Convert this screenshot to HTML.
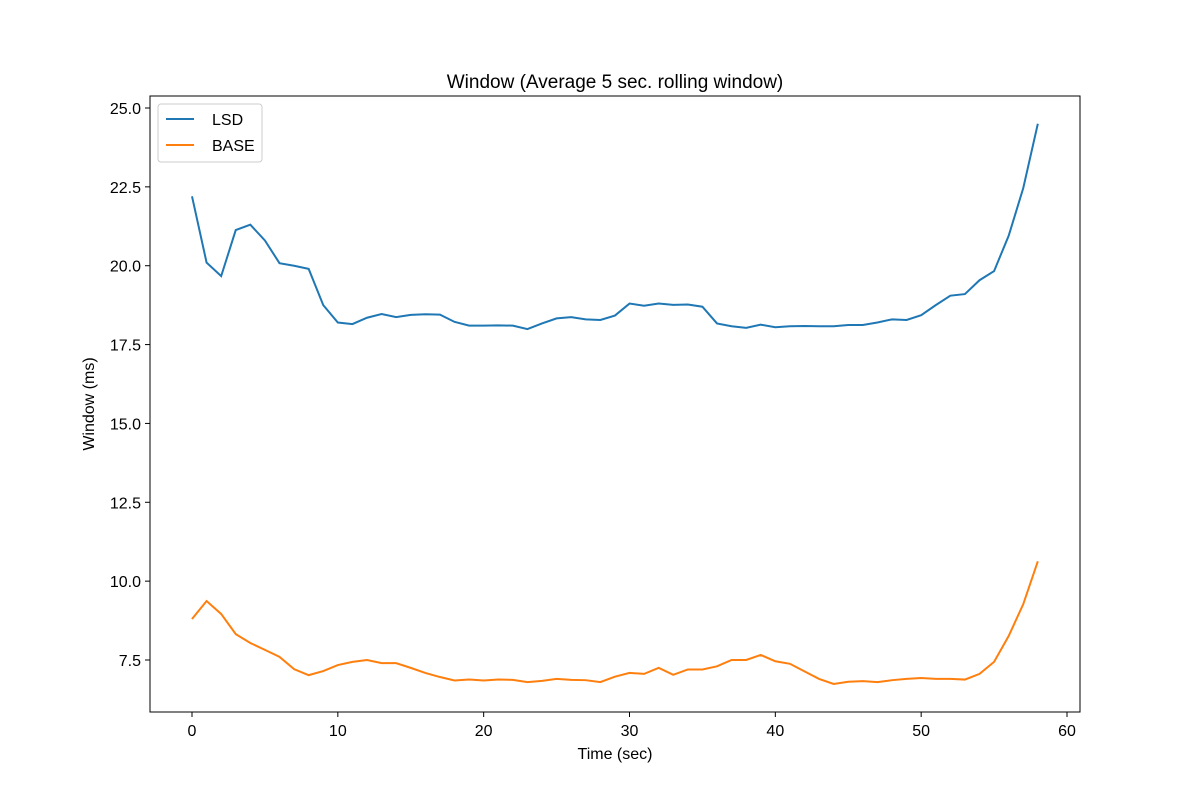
<!DOCTYPE html>
<html><head><meta charset="utf-8"><style>
html,body{margin:0;padding:0;background:#fff;}
svg{display:block;font-family:"Liberation Sans","DejaVu Sans",sans-serif;}
</style></head><body>
<svg id="chart" width="1200" height="800" xmlns="http://www.w3.org/2000/svg">
<rect width="1200" height="800" fill="#fff"/>
<text x="615" y="88" text-anchor="middle" font-size="19">Window (Average 5 sec. rolling window)</text>
<g id="grid"></g>
<g id="series"></g>
<rect x="150" y="96" width="930" height="616" fill="none" stroke="#000" stroke-width="1"/>
<text x="615" y="759" text-anchor="middle" font-size="16">Time (sec)</text>
<text transform="translate(94,404) rotate(-90)" text-anchor="middle" font-size="16">Window (ms)</text>
<g>
<rect x="158" y="104" width="104" height="58" rx="3" fill="#fff" stroke="#ccc"/>
<line x1="166" y1="119" x2="194" y2="119" stroke="#1f77b4" stroke-width="2"/>
<text x="212" y="125" font-size="16">LSD</text>
<line x1="166" y1="145" x2="194" y2="145" stroke="#ff7f0e" stroke-width="2"/>
<text x="212" y="151" font-size="16">BASE</text>
</g>
</svg>
<script>
const xTicks = [0,10,20,30,40,50,60];
const yTicks = [7.5,10.0,12.5,15.0,17.5,20.0,22.5,25.0];
const lsd = [22.2,20.1,19.67,21.13,21.3,20.8,20.08,20.0,19.9,18.75,18.2,18.15,18.35,18.47,18.37,18.44,18.46,18.45,18.22,18.1,18.1,18.11,18.1,17.99,18.17,18.33,18.37,18.3,18.28,18.42,18.8,18.73,18.8,18.76,18.77,18.7,18.17,18.08,18.03,18.13,18.05,18.08,18.09,18.08,18.08,18.12,18.12,18.2,18.3,18.28,18.43,18.75,19.05,19.1,19.54,19.83,20.95,22.46,24.5];
const base = [8.8,9.37,8.96,8.32,8.04,7.82,7.6,7.21,7.02,7.15,7.34,7.44,7.5,7.4,7.4,7.25,7.09,6.96,6.85,6.88,6.85,6.88,6.87,6.8,6.84,6.9,6.87,6.86,6.8,6.97,7.09,7.06,7.25,7.03,7.2,7.2,7.3,7.5,7.5,7.66,7.46,7.38,7.14,6.9,6.74,6.81,6.83,6.8,6.86,6.9,6.93,6.9,6.9,6.88,7.06,7.44,8.26,9.27,10.63];
const NS="http://www.w3.org/2000/svg";
function xs(v){return 192+v*(875/60);}
function ys(v){return 108+(25-v)*(552/17.5);}
const grid=document.getElementById('grid');
xTicks.forEach(t=>{
  const l=document.createElementNS(NS,'line');
  
  
  l.setAttribute('x1',xs(t));l.setAttribute('x2',xs(t));l.setAttribute('y1',712);l.setAttribute('y2',717);l.setAttribute('stroke','#000');
  grid.appendChild(l);
  const tx=document.createElementNS(NS,'text');
  
  
  tx.setAttribute('x',xs(t));tx.setAttribute('y',736);tx.setAttribute('text-anchor','middle');tx.setAttribute('font-size','16');
  tx.textContent=t;grid.appendChild(tx);
});
yTicks.forEach(t=>{
  const l=document.createElementNS(NS,'line');
  
  
  l.setAttribute('x1',145);l.setAttribute('x2',150);l.setAttribute('y1',ys(t));l.setAttribute('y2',ys(t));l.setAttribute('stroke','#000');
  grid.appendChild(l);
  const tx=document.createElementNS(NS,'text');
  
  
  tx.setAttribute('x',141);tx.setAttribute('y',ys(t)+6);tx.setAttribute('text-anchor','end');tx.setAttribute('font-size','16');
  tx.textContent=t.toFixed(1);grid.appendChild(tx);
});
const ser=document.getElementById('series');
function draw(arr,color,name){
  const p=document.createElementNS(NS,'polyline');
  
  
  p.setAttribute('points',arr.map((v,i)=>xs(i)+','+ys(v)).join(' '));
  p.setAttribute('fill','none');p.setAttribute('stroke',color);p.setAttribute('stroke-width','2');
  ser.appendChild(p);
}
draw(lsd,'#1f77b4','lsd-line');
draw(base,'#ff7f0e','base-line');
</script>
</body></html>
